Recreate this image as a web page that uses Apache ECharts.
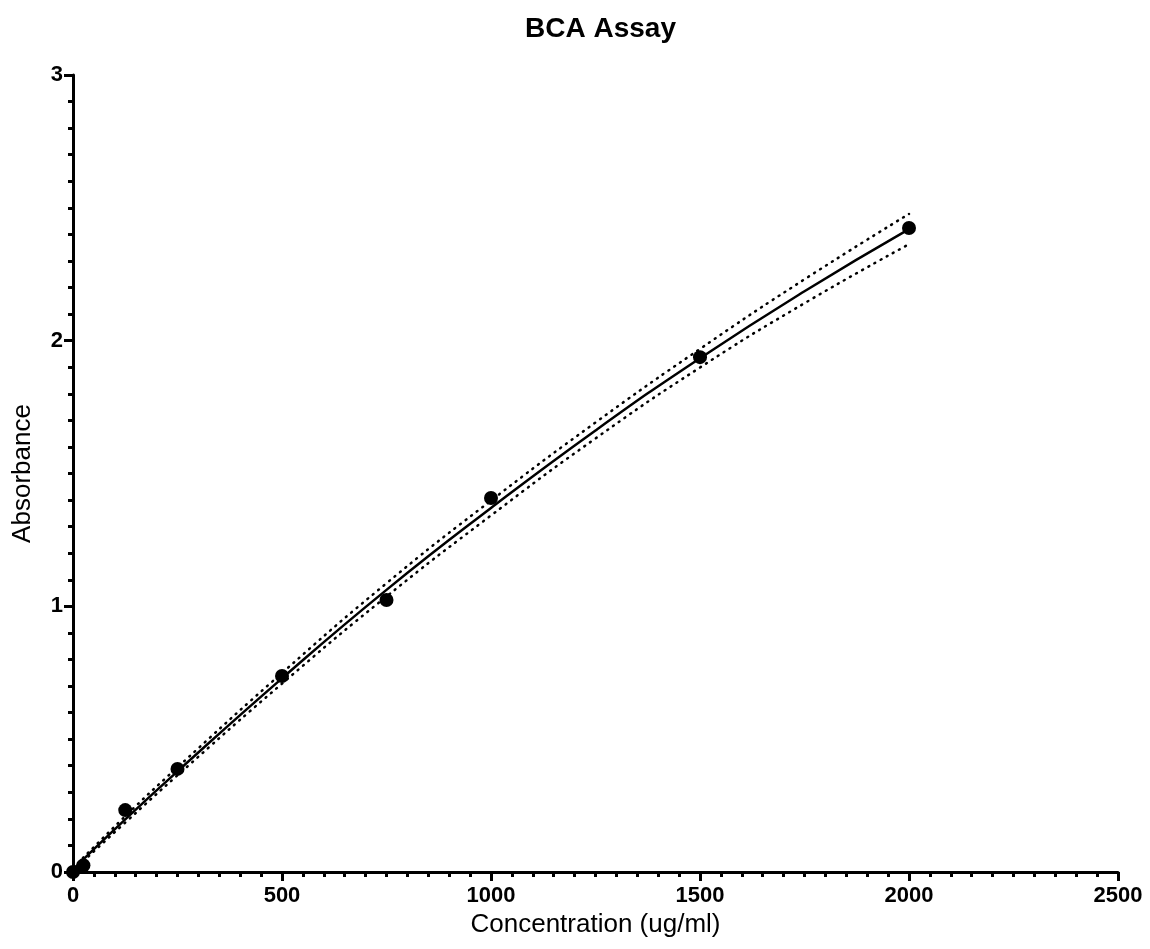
<!DOCTYPE html>
<html><head><meta charset="utf-8">
<script src="https://cdn.jsdelivr.net/npm/echarts@6/dist/echarts.min.js"></script>
<style>html,body{margin:0;padding:0;background:#fff}#c{width:1150px;height:949px}</style>
</head><body><div id="c"></div>
<script>
const concentrations = [0, 25, 125, 250, 500, 750, 1000, 1500, 2000];
const absorbance = [0.0, 0.025, 0.233, 0.388, 0.738, 1.024, 1.408, 1.938, 2.424];
const fitX = [0, 125, 250, 500, 750, 1000, 1250, 1500, 1750, 2000];
const fitY = [0.01, 0.198, 0.379, 0.729, 1.062, 1.37, 1.662, 1.934, 2.186, 2.42];
const upperY = [0.015, 0.21, 0.394, 0.749, 1.087, 1.398, 1.692, 1.969, 2.231, 2.477];
const lowerY = [0.005, 0.186, 0.364, 0.709, 1.037, 1.342, 1.632, 1.899, 2.141, 2.363];
const xTicks = [0, 500, 1000, 1500, 2000, 2500];
const yTicks = [0, 1, 2, 3];

const pair = (xs, ys) => xs.map((x, i) => [x, ys[i]]);
const font = 'Liberation Sans, Arial, sans-serif';
const chart = echarts.init(document.getElementById('c'));
chart.setOption({
  animation: false,
  title: { text: 'BCA Assay', left: 520, top: 10,
    textStyle: { fontFamily: font, fontWeight: 'bold', fontSize: 28, color: '#000' } },
  grid: { left: 73, right: 32, top: 75, bottom: 77 },
  xAxis: {
    type: 'value', min: xTicks[0], max: xTicks[xTicks.length - 1], interval: 500,
    name: 'Concentration (ug/ml)', nameLocation: 'middle', nameGap: 40,
    nameTextStyle: { fontFamily: font, fontSize: 26, color: '#000' },
    axisLine: { show: true, onZero: false, lineStyle: { color: '#000', width: 3 } },
    axisTick: { show: true, length: 9, lineStyle: { color: '#000', width: 3 } },
    minorTick: { show: true, splitNumber: 10, length: 5, lineStyle: { color: '#000', width: 3 } },
    axisLabel: { fontFamily: font, fontWeight: 'bold', fontSize: 22, color: '#000', margin: 13,
      formatter: v => String(v) },
    splitLine: { show: false }
  },
  yAxis: {
    type: 'value', min: yTicks[0], max: yTicks[yTicks.length - 1], interval: 1,
    name: 'Absorbance', nameLocation: 'middle', nameGap: 37,
    nameTextStyle: { fontFamily: font, fontSize: 26, color: '#000' },
    axisLine: { show: true, onZero: false, lineStyle: { color: '#000', width: 3 } },
    axisTick: { show: true, length: 9, lineStyle: { color: '#000', width: 3 } },
    minorTick: { show: true, splitNumber: 10, length: 5, lineStyle: { color: '#000', width: 3 } },
    axisLabel: { fontFamily: font, fontWeight: 'bold', fontSize: 22, color: '#000', margin: 10,
      formatter: v => String(v) },
    splitLine: { show: false }
  },
  series: [
    { type: 'line', data: pair(fitX, upperY), smooth: true, symbol: 'none',
      lineStyle: { color: '#000', width: 2.5, type: [1, 6], cap: 'round' } },
    { type: 'line', data: pair(fitX, lowerY), smooth: true, symbol: 'none',
      lineStyle: { color: '#000', width: 2.5, type: [1, 6], cap: 'round' } },
    { type: 'line', data: pair(fitX, fitY), smooth: true, symbol: 'none',
      lineStyle: { color: '#000', width: 2.5 } },
    { type: 'scatter', data: pair(concentrations, absorbance), symbol: 'circle', symbolSize: 14,
      clip: false, z: 10, itemStyle: { color: '#000', opacity: 1 } }
  ]
});
</script></body></html>
